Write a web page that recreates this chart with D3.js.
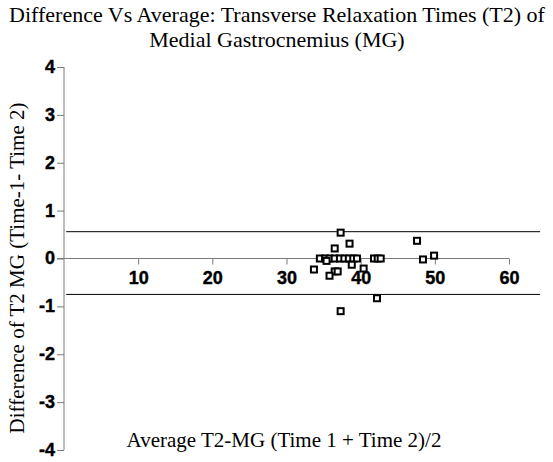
<!DOCTYPE html>
<html>
<head>
<meta charset="utf-8">
<script src="https://cdn.jsdelivr.net/npm/d3@7"></script>
<style>
  body { margin: 0; background: #fff; }
  svg { display: block; }
  .serif { font-family: "Liberation Serif", "Times New Roman", serif; fill: #000; }
  .tick text { font-family: "Liberation Sans", Arial, sans-serif; font-weight: bold; font-size: 18px; fill: #000; stroke: #000; stroke-width: 0.4px; }
</style>
</head>
<body>
<svg id="chart" width="553" height="462"></svg>
<script>
// mean of the two T2 readings (x) and their difference (y)
var avgT2 = [37.3, 47.6, 38.5, 36.5, 49.9, 48.4,
             34.5, 35.2, 35.8, 36.5, 37.2, 37.8, 38.4, 39.0, 39.5, 41.8, 42.3, 42.7, 35.4,
             38.8, 40.4, 36.5, 35.8, 36.9, 33.7, 42.2, 37.3];
var diffT2 = [0.54, 0.37, 0.31, 0.21, 0.06, -0.02,
              0.0, 0.0, 0.0, 0.0, 0.0, 0.0, 0.0, 0.0, 0.0, 0.0, 0.0, 0.0, -0.05,
              -0.13, -0.21, -0.27, -0.36, -0.27, -0.23, -0.83, -1.1];
var limits = [0.56, -0.75];
var xTicks = [10, 20, 30, 40, 50, 60];
var yTicks = [4, 3, 2, 1, 0, -1, -2, -3, -4];

var svg = d3.select('#chart');
var axisColor = '#7a7a7a';

var x = d3.scaleLinear().domain([0, 60]).range([64, 509]);
var y = d3.scaleLinear().domain([-4, 4]).range([450, 67]);

function plain(d) { return String(d); }

// title
svg.append('text')
    .attr('class', 'serif')
    .attr('x', 277).attr('y', 22)
    .attr('text-anchor', 'middle')
    .style('font-size', '22px')
    .text('Difference Vs Average: Transverse Relaxation Times (T2) of');
svg.append('text')
    .attr('class', 'serif')
    .attr('x', 277).attr('y', 47)
    .attr('text-anchor', 'middle')
    .style('font-size', '22px')
    .text('Medial Gastrocnemius (MG)');

// y axis
var yAxis = svg.append('g')
    .attr('transform', 'translate(' + x(0) + ',0)')
    .call(d3.axisLeft(y).tickValues(yTicks).tickSize(7).tickFormat(plain));
yAxis.select('.domain').attr('stroke', axisColor).attr('d', 'M0,' + y(4) + 'V' + y(-4));
yAxis.selectAll('.tick line').attr('stroke', axisColor);
yAxis.selectAll('.tick text').attr('x', -9).attr('dy', '0.3em');

// x axis sits on the zero line, ticks hang below
var xAxis = svg.append('g')
    .attr('transform', 'translate(0,' + y(0) + ')')
    .call(d3.axisBottom(x).tickValues(xTicks).tickSize(6).tickFormat(plain));
xAxis.select('.domain').attr('stroke', axisColor).attr('d', 'M' + (x(0) - 7) + ',0H' + x(60));
xAxis.selectAll('.tick line').attr('stroke', axisColor);
xAxis.selectAll('.tick text').attr('y', 13);

// limits of agreement
svg.selectAll('line.limit')
    .data(limits)
    .enter().append('line')
    .attr('class', 'limit')
    .attr('x1', x(0.3)).attr('x2', x(64.2))
    .attr('y1', function(d) { return y(d); })
    .attr('y2', function(d) { return y(d); })
    .attr('stroke', '#000')
    .attr('stroke-width', 1);

// points
var pts = avgT2.map(function(v, i) { return [v, diffT2[i]]; });
svg.selectAll('rect.pt')
    .data(pts)
    .enter().append('rect')
    .attr('class', 'pt')
    .attr('x', function(d) { return x(d[0]) - 3; })
    .attr('y', function(d) { return y(d[1]) - 3; })
    .attr('width', 6).attr('height', 6)
    .attr('fill', '#fff')
    .attr('stroke', '#000')
    .attr('stroke-width', 2);

// axis titles
svg.append('text')
    .attr('class', 'serif')
    .attr('x', 284).attr('y', 447)
    .attr('text-anchor', 'middle')
    .style('font-size', '21px')
    .text('Average T2-MG (Time 1 + Time 2)/2');
svg.append('text')
    .attr('class', 'serif')
    .attr('transform', 'translate(24,268) rotate(-90)')
    .attr('text-anchor', 'middle')
    .style('font-size', '21px')
    .text('Difference of T2 MG (Time-1- Time 2)');
</script>
</body>
</html>
